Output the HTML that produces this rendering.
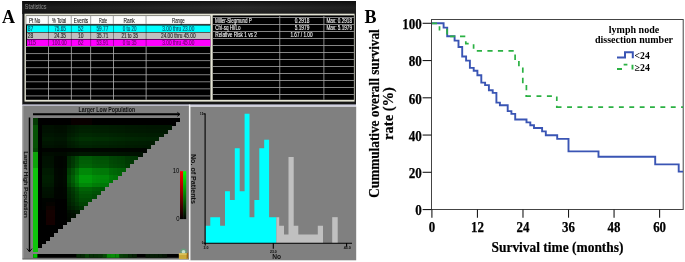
<!DOCTYPE html>
<html><head><meta charset="utf-8"><title>Figure</title>
<style>
html,body{margin:0;padding:0;background:#fff;}
body{width:685px;height:262px;overflow:hidden;}
svg{display:block;}
.ss{font-family:"Liberation Sans",sans-serif;}
.sf{font-family:"Liberation Serif",serif;font-weight:bold;}
</style></head><body>
<svg width="685" height="262" viewBox="0 0 685 262">
<defs>
<linearGradient id="tb" x1="0" x2="1" y1="0" y2="0"><stop offset="0" stop-color="#1b1b1b"/><stop offset="0.65" stop-color="#2a2a2a"/><stop offset="1" stop-color="#202020"/></linearGradient>
<linearGradient id="tbv" x1="0" x2="0" y1="0" y2="1"><stop offset="0" stop-color="#000" stop-opacity="0.55"/><stop offset="0.5" stop-color="#000" stop-opacity="0"/><stop offset="1" stop-color="#000" stop-opacity="0.25"/></linearGradient>
<linearGradient id="cr" x1="0" x2="0" y1="0" y2="1"><stop offset="0" stop-color="#ff0000"/><stop offset="1" stop-color="#000000"/></linearGradient>
<linearGradient id="cg" x1="0" x2="0" y1="0" y2="1"><stop offset="0" stop-color="#00ff00"/><stop offset="1" stop-color="#000000"/></linearGradient>
</defs>
<rect x="0" y="0" width="685" height="262" fill="#ffffff"/>
<text class="sf" x="2" y="22.7" font-size="18">A</text>
<rect x="22.3" y="1" width="333.7" height="104" fill="#161616"/>
<rect x="22.3" y="1" width="333.7" height="13" fill="url(#tb)"/>
<rect x="22.3" y="1" width="333.7" height="13" fill="url(#tbv)"/>
<text class="ss" x="24.8" y="9" font-size="7" fill="#8c8c8c" textLength="21.7" lengthAdjust="spacingAndGlyphs">Statistics</text>
<rect x="24.5" y="13.7" width="330.1" height="87.89999999999999" fill="#e4e4d4"/>
<rect x="25.9" y="15.6" width="184.5" height="84.2" fill="#000"/>
<rect x="212.7" y="15.4" width="141.2" height="84.39999999999999" fill="#000"/>
<rect x="25.9" y="15.8" width="184.5" height="8.599999999999998" fill="#a8a8a8"/>
<rect x="26.50" y="16.1" width="21.30" height="7.70" fill="#fcfcfc"/>
<rect x="48.90" y="16.1" width="21.80" height="7.70" fill="#fcfcfc"/>
<rect x="71.80" y="16.1" width="18.30" height="7.70" fill="#fcfcfc"/>
<rect x="91.20" y="16.1" width="21.60" height="7.70" fill="#fcfcfc"/>
<rect x="113.90" y="16.1" width="31.60" height="7.70" fill="#fcfcfc"/>
<rect x="146.60" y="16.1" width="63.50" height="7.70" fill="#fcfcfc"/>
<rect x="25.9" y="24.099999999999998" width="184.5" height="1.0" fill="#3c3c3c"/>
<rect x="27.099999999999998" y="25.50" width="183.3" height="6.50" fill="#00ffff"/>
<rect x="27.099999999999998" y="32.55" width="183.3" height="6.50" fill="#c0c0c0"/>
<rect x="27.099999999999998" y="39.60" width="183.3" height="6.50" fill="#ff00ff"/>
<rect x="25.9" y="46.10" width="184.5" height="0.9" fill="#8c8c8c"/>
<rect x="25.9" y="53.15" width="184.5" height="0.9" fill="#8c8c8c"/>
<rect x="25.9" y="60.20" width="184.5" height="0.9" fill="#8c8c8c"/>
<rect x="25.9" y="67.25" width="184.5" height="0.9" fill="#8c8c8c"/>
<rect x="25.9" y="74.30" width="184.5" height="0.9" fill="#8c8c8c"/>
<rect x="25.9" y="81.35" width="184.5" height="0.9" fill="#8c8c8c"/>
<rect x="25.9" y="88.40" width="184.5" height="0.9" fill="#8c8c8c"/>
<rect x="25.9" y="95.45" width="184.5" height="0.9" fill="#8c8c8c"/>
<rect x="48.00" y="25.40" width="0.8" height="21.15" fill="#000" fill-opacity="0.45"/>
<rect x="48.00" y="46.55" width="0.8" height="53.25" fill="#b4b4b4"/>
<rect x="70.90" y="25.40" width="0.8" height="21.15" fill="#000" fill-opacity="0.45"/>
<rect x="70.90" y="46.55" width="0.8" height="53.25" fill="#b4b4b4"/>
<rect x="90.30" y="25.40" width="0.8" height="21.15" fill="#000" fill-opacity="0.45"/>
<rect x="90.30" y="46.55" width="0.8" height="53.25" fill="#b4b4b4"/>
<rect x="113.00" y="25.40" width="0.8" height="21.15" fill="#000" fill-opacity="0.45"/>
<rect x="113.00" y="46.55" width="0.8" height="53.25" fill="#b4b4b4"/>
<rect x="145.70" y="25.40" width="0.8" height="21.15" fill="#000" fill-opacity="0.45"/>
<rect x="145.70" y="46.55" width="0.8" height="53.25" fill="#b4b4b4"/>
<text class="ss" x="29.0" y="22.6" font-size="6.5" fill="#101010" textLength="11.3" lengthAdjust="spacingAndGlyphs" stroke="#101010" stroke-width="0.1">Pt No</text>
<text class="ss" x="52.1" y="22.6" font-size="6.5" fill="#101010" textLength="13.9" lengthAdjust="spacingAndGlyphs" stroke="#101010" stroke-width="0.1">% Total</text>
<text class="ss" x="73.8" y="22.6" font-size="6.5" fill="#101010" textLength="14.4" lengthAdjust="spacingAndGlyphs" stroke="#101010" stroke-width="0.1">Events</text>
<text class="ss" x="99.0" y="22.6" font-size="6.5" fill="#101010" textLength="8.0" lengthAdjust="spacingAndGlyphs" stroke="#101010" stroke-width="0.1">Rate</text>
<text class="ss" x="123.4" y="22.6" font-size="6.5" fill="#101010" textLength="11.4" lengthAdjust="spacingAndGlyphs" stroke="#101010" stroke-width="0.1">Rank</text>
<text class="ss" x="172.1" y="22.6" font-size="6.5" fill="#101010" textLength="12.6" lengthAdjust="spacingAndGlyphs" stroke="#101010" stroke-width="0.1">Range</text>
<text class="ss" x="27.7" y="31.3" font-size="6.4" fill="#004c66" textLength="5.5" lengthAdjust="spacingAndGlyphs" stroke="#004c66" stroke-width="0.12">87</text>
<text class="ss" x="54.2" y="31.3" font-size="6.4" fill="#004c66" textLength="11.8" lengthAdjust="spacingAndGlyphs" stroke="#004c66" stroke-width="0.12">75.65</text>
<text class="ss" x="78.1" y="31.3" font-size="6.4" fill="#004c66" textLength="5.5" lengthAdjust="spacingAndGlyphs" stroke="#004c66" stroke-width="0.12">52</text>
<text class="ss" x="96.5" y="31.3" font-size="6.4" fill="#004c66" textLength="11.8" lengthAdjust="spacingAndGlyphs" stroke="#004c66" stroke-width="0.12">59.77</text>
<text class="ss" x="122.7" y="31.3" font-size="6.4" fill="#004c66" textLength="13.8" lengthAdjust="spacingAndGlyphs" stroke="#004c66" stroke-width="0.12">0 to 20</text>
<text class="ss" x="162.3" y="31.3" font-size="6.4" fill="#004c66" textLength="32.0" lengthAdjust="spacingAndGlyphs" stroke="#004c66" stroke-width="0.12">3.00 thru 23.00</text>
<text class="ss" x="27.7" y="38.3" font-size="6.4" fill="#1e1e1e" textLength="5.5" lengthAdjust="spacingAndGlyphs" stroke="#1e1e1e" stroke-width="0.12">28</text>
<text class="ss" x="54.2" y="38.3" font-size="6.4" fill="#1e1e1e" textLength="11.8" lengthAdjust="spacingAndGlyphs" stroke="#1e1e1e" stroke-width="0.12">24.35</text>
<text class="ss" x="78.1" y="38.3" font-size="6.4" fill="#1e1e1e" textLength="5.5" lengthAdjust="spacingAndGlyphs" stroke="#1e1e1e" stroke-width="0.12">10</text>
<text class="ss" x="96.5" y="38.3" font-size="6.4" fill="#1e1e1e" textLength="11.8" lengthAdjust="spacingAndGlyphs" stroke="#1e1e1e" stroke-width="0.12">35.71</text>
<text class="ss" x="121.4" y="38.3" font-size="6.4" fill="#1e1e1e" textLength="16.6" lengthAdjust="spacingAndGlyphs" stroke="#1e1e1e" stroke-width="0.12">21 to 35</text>
<text class="ss" x="161.0" y="38.3" font-size="6.4" fill="#1e1e1e" textLength="34.6" lengthAdjust="spacingAndGlyphs" stroke="#1e1e1e" stroke-width="0.12">24.00 thru 45.00</text>
<text class="ss" x="27.7" y="45.4" font-size="6.4" fill="#6a006a" textLength="8.3" lengthAdjust="spacingAndGlyphs" stroke="#6a006a" stroke-width="0.12">115</text>
<text class="ss" x="52.1" y="45.4" font-size="6.4" fill="#6a006a" textLength="14.7" lengthAdjust="spacingAndGlyphs" stroke="#6a006a" stroke-width="0.12">100.00</text>
<text class="ss" x="78.1" y="45.4" font-size="6.4" fill="#6a006a" textLength="5.5" lengthAdjust="spacingAndGlyphs" stroke="#6a006a" stroke-width="0.12">62</text>
<text class="ss" x="96.5" y="45.4" font-size="6.4" fill="#6a006a" textLength="11.8" lengthAdjust="spacingAndGlyphs" stroke="#6a006a" stroke-width="0.12">53.91</text>
<text class="ss" x="122.7" y="45.4" font-size="6.4" fill="#6a006a" textLength="13.8" lengthAdjust="spacingAndGlyphs" stroke="#6a006a" stroke-width="0.12">0 to 35</text>
<text class="ss" x="162.3" y="45.4" font-size="6.4" fill="#6a006a" textLength="32.0" lengthAdjust="spacingAndGlyphs" stroke="#6a006a" stroke-width="0.12">3.00 thru 45.00</text>
<rect x="212.7" y="17.10" width="141.2" height="0.8" fill="#a8a8a8"/>
<rect x="212.7" y="24.10" width="141.2" height="0.8" fill="#a8a8a8"/>
<rect x="212.7" y="31.10" width="141.2" height="0.8" fill="#a8a8a8"/>
<rect x="212.7" y="38.10" width="141.2" height="0.8" fill="#a8a8a8"/>
<rect x="212.7" y="45.10" width="141.2" height="0.8" fill="#a8a8a8"/>
<rect x="212.7" y="52.10" width="141.2" height="0.8" fill="#a8a8a8"/>
<rect x="212.7" y="59.10" width="141.2" height="0.8" fill="#a8a8a8"/>
<rect x="212.7" y="66.10" width="141.2" height="0.8" fill="#a8a8a8"/>
<rect x="212.7" y="73.10" width="141.2" height="0.8" fill="#a8a8a8"/>
<rect x="212.7" y="80.10" width="141.2" height="0.8" fill="#a8a8a8"/>
<rect x="212.7" y="87.10" width="141.2" height="0.8" fill="#a8a8a8"/>
<rect x="212.7" y="94.10" width="141.2" height="0.8" fill="#a8a8a8"/>
<rect x="279.40" y="16" width="0.8" height="83.8" fill="#a8a8a8"/>
<rect x="323.50" y="16" width="0.8" height="83.8" fill="#a8a8a8"/>
<text class="ss" x="215.0" y="22.8" font-size="6.3" fill="#f4f4f4" textLength="36.8" lengthAdjust="spacingAndGlyphs" stroke="#f4f4f4" stroke-width="0.12">Miller-Siegmund P</text>
<text class="ss" x="294.7" y="22.8" font-size="6.3" fill="#f4f4f4" textLength="14.6" lengthAdjust="spacingAndGlyphs" stroke="#f4f4f4" stroke-width="0.12">0.2918</text>
<text class="ss" x="326.4" y="22.8" font-size="6.3" fill="#f4f4f4" textLength="25.6" lengthAdjust="spacingAndGlyphs" stroke="#f4f4f4" stroke-width="0.12">Max: 0.2918</text>
<text class="ss" x="215.3" y="29.8" font-size="6.3" fill="#f4f4f4" textLength="25.2" lengthAdjust="spacingAndGlyphs" stroke="#f4f4f4" stroke-width="0.12">Chi-sq Hi/Lo</text>
<text class="ss" x="294.7" y="29.8" font-size="6.3" fill="#f4f4f4" textLength="14.6" lengthAdjust="spacingAndGlyphs" stroke="#f4f4f4" stroke-width="0.12">5.1979</text>
<text class="ss" x="326.4" y="29.8" font-size="6.3" fill="#f4f4f4" textLength="25.6" lengthAdjust="spacingAndGlyphs" stroke="#f4f4f4" stroke-width="0.12">Max: 5.1979</text>
<text class="ss" x="215.3" y="36.8" font-size="6.3" fill="#f4f4f4" textLength="41.6" lengthAdjust="spacingAndGlyphs" stroke="#f4f4f4" stroke-width="0.12">Relative Risk 1 vs 2</text>
<text class="ss" x="290.4" y="36.8" font-size="6.3" fill="#f4f4f4" textLength="22.2" lengthAdjust="spacingAndGlyphs" stroke="#f4f4f4" stroke-width="0.12">1.67 / 1.00</text>
<rect x="22.3" y="104.4" width="333.7" height="1.5" fill="#d0d0e4"/>
<rect x="22.5" y="105.7" width="166.5" height="153.60000000000002" fill="#808080"/>
<rect x="190.3" y="106.8" width="165.89999999999998" height="153.5" fill="#808080"/>
<rect x="188.9" y="104.6" width="1.3" height="156.4" fill="#f4f4f4"/>
<rect x="190.3" y="105.7" width="165.89999999999998" height="1.1" fill="#c8c8d0"/>
<rect x="22.5" y="105.7" width="1.0" height="153.60000000000002" fill="#a0a0a0"/>
<rect x="22.5" y="258.5" width="166.5" height="0.9" fill="#606060"/>
<g shape-rendering="crispEdges"><rect x="33.20" y="117.70" width="146.70" height="4.13" fill="#000"/><rect x="33.20" y="121.53" width="142.51" height="4.13" fill="#000"/><rect x="33.20" y="125.36" width="138.32" height="4.13" fill="#000"/><rect x="33.20" y="129.19" width="134.13" height="4.13" fill="#000"/><rect x="33.20" y="133.03" width="129.93" height="4.13" fill="#000"/><rect x="33.20" y="136.86" width="125.74" height="4.13" fill="#000"/><rect x="33.20" y="140.69" width="121.55" height="4.13" fill="#000"/><rect x="33.20" y="144.52" width="117.36" height="4.13" fill="#000"/><rect x="33.20" y="148.35" width="113.17" height="4.13" fill="#000"/><rect x="33.20" y="152.18" width="108.98" height="4.13" fill="#000"/><rect x="33.20" y="156.01" width="104.79" height="4.13" fill="#000"/><rect x="33.20" y="159.85" width="100.59" height="4.13" fill="#000"/><rect x="33.20" y="163.68" width="96.40" height="4.13" fill="#000"/><rect x="33.20" y="167.51" width="92.21" height="4.13" fill="#000"/><rect x="33.20" y="171.34" width="88.02" height="4.13" fill="#000"/><rect x="33.20" y="175.17" width="83.83" height="4.13" fill="#000"/><rect x="33.20" y="179.00" width="79.64" height="4.13" fill="#000"/><rect x="33.20" y="182.83" width="75.45" height="4.13" fill="#000"/><rect x="33.20" y="186.67" width="71.25" height="4.13" fill="#000"/><rect x="33.20" y="190.50" width="67.06" height="4.13" fill="#000"/><rect x="33.20" y="194.33" width="62.87" height="4.13" fill="#000"/><rect x="33.20" y="198.16" width="58.68" height="4.13" fill="#000"/><rect x="33.20" y="201.99" width="54.49" height="4.13" fill="#000"/><rect x="33.20" y="205.82" width="50.30" height="4.13" fill="#000"/><rect x="33.20" y="209.65" width="46.11" height="4.13" fill="#000"/><rect x="33.20" y="213.49" width="41.91" height="4.13" fill="#000"/><rect x="33.20" y="217.32" width="37.72" height="4.13" fill="#000"/><rect x="33.20" y="221.15" width="33.53" height="4.13" fill="#000"/><rect x="33.20" y="224.98" width="29.34" height="4.13" fill="#000"/><rect x="33.20" y="228.81" width="25.15" height="4.13" fill="#000"/><rect x="33.20" y="232.64" width="20.96" height="4.13" fill="#000"/><rect x="33.20" y="236.47" width="16.77" height="4.13" fill="#000"/><rect x="33.20" y="240.31" width="12.57" height="4.13" fill="#000"/><rect x="33.20" y="244.14" width="8.38" height="4.13" fill="#000"/><rect x="33.20" y="247.97" width="4.19" height="4.13" fill="#000"/><rect x="33.20" y="117.70" width="4.69" height="4.33" fill="#043a03"/><rect x="70.92" y="117.70" width="4.69" height="4.33" fill="#090000"/><rect x="75.11" y="117.70" width="4.69" height="4.33" fill="#090000"/><rect x="79.31" y="117.70" width="4.69" height="4.33" fill="#090000"/><rect x="83.50" y="117.70" width="4.69" height="4.33" fill="#090000"/><rect x="87.69" y="117.70" width="4.69" height="4.33" fill="#090000"/>
<rect x="33.20" y="121.53" width="4.69" height="4.33" fill="#043a03"/><rect x="70.92" y="121.53" width="4.69" height="4.33" fill="#090000"/><rect x="75.11" y="121.53" width="4.69" height="4.33" fill="#090000"/><rect x="79.31" y="121.53" width="4.69" height="4.33" fill="#090000"/><rect x="83.50" y="121.53" width="4.69" height="4.33" fill="#090000"/><rect x="87.69" y="121.53" width="4.69" height="4.33" fill="#090000"/>
<rect x="33.20" y="125.36" width="4.69" height="4.33" fill="#065204"/><rect x="41.58" y="125.36" width="4.69" height="4.33" fill="#001000"/><rect x="45.77" y="125.36" width="4.69" height="4.33" fill="#001000"/><rect x="49.97" y="125.36" width="4.69" height="4.33" fill="#001000"/><rect x="54.16" y="125.36" width="4.69" height="4.33" fill="#000d00"/><rect x="58.35" y="125.36" width="4.69" height="4.33" fill="#000d00"/><rect x="62.54" y="125.36" width="4.69" height="4.33" fill="#000e00"/><rect x="66.73" y="125.36" width="4.69" height="4.33" fill="#001401"/><rect x="70.92" y="125.36" width="4.69" height="4.33" fill="#001701"/><rect x="75.11" y="125.36" width="4.69" height="4.33" fill="#001b01"/><rect x="79.31" y="125.36" width="4.69" height="4.33" fill="#001e01"/><rect x="83.50" y="125.36" width="4.69" height="4.33" fill="#001e01"/><rect x="87.69" y="125.36" width="4.69" height="4.33" fill="#001e01"/><rect x="91.88" y="125.36" width="4.69" height="4.33" fill="#001d01"/><rect x="96.07" y="125.36" width="4.69" height="4.33" fill="#001c01"/><rect x="100.26" y="125.36" width="4.69" height="4.33" fill="#001c01"/><rect x="104.45" y="125.36" width="4.69" height="4.33" fill="#001c01"/><rect x="108.65" y="125.36" width="4.69" height="4.33" fill="#001a01"/><rect x="112.84" y="125.36" width="4.69" height="4.33" fill="#001a01"/><rect x="117.03" y="125.36" width="4.69" height="4.33" fill="#001901"/><rect x="121.22" y="125.36" width="4.69" height="4.33" fill="#001901"/><rect x="125.41" y="125.36" width="4.69" height="4.33" fill="#001701"/><rect x="129.60" y="125.36" width="4.69" height="4.33" fill="#001701"/><rect x="133.79" y="125.36" width="4.69" height="4.33" fill="#001701"/><rect x="137.99" y="125.36" width="4.69" height="4.33" fill="#001601"/><rect x="142.18" y="125.36" width="4.69" height="4.33" fill="#001601"/><rect x="146.37" y="125.36" width="4.69" height="4.33" fill="#001501"/><rect x="150.56" y="125.36" width="4.69" height="4.33" fill="#001501"/><rect x="154.75" y="125.36" width="4.69" height="4.33" fill="#001501"/><rect x="158.94" y="125.36" width="4.69" height="4.33" fill="#001501"/><rect x="163.13" y="125.36" width="4.69" height="4.33" fill="#001501"/><rect x="167.33" y="125.36" width="4.69" height="4.33" fill="#001501"/>
<rect x="33.20" y="129.19" width="4.69" height="4.33" fill="#065204"/><rect x="41.58" y="129.19" width="4.69" height="4.33" fill="#001101"/><rect x="45.77" y="129.19" width="4.69" height="4.33" fill="#001101"/><rect x="49.97" y="129.19" width="4.69" height="4.33" fill="#001101"/><rect x="54.16" y="129.19" width="4.69" height="4.33" fill="#000f00"/><rect x="58.35" y="129.19" width="4.69" height="4.33" fill="#000e00"/><rect x="62.54" y="129.19" width="4.69" height="4.33" fill="#000f00"/><rect x="66.73" y="129.19" width="4.69" height="4.33" fill="#001601"/><rect x="70.92" y="129.19" width="4.69" height="4.33" fill="#001901"/><rect x="75.11" y="129.19" width="4.69" height="4.33" fill="#001d01"/><rect x="79.31" y="129.19" width="4.69" height="4.33" fill="#002101"/><rect x="83.50" y="129.19" width="4.69" height="4.33" fill="#002101"/><rect x="87.69" y="129.19" width="4.69" height="4.33" fill="#002101"/><rect x="91.88" y="129.19" width="4.69" height="4.33" fill="#001f01"/><rect x="96.07" y="129.19" width="4.69" height="4.33" fill="#001f01"/><rect x="100.26" y="129.19" width="4.69" height="4.33" fill="#001e01"/><rect x="104.45" y="129.19" width="4.69" height="4.33" fill="#001e01"/><rect x="108.65" y="129.19" width="4.69" height="4.33" fill="#001c01"/><rect x="112.84" y="129.19" width="4.69" height="4.33" fill="#001c01"/><rect x="117.03" y="129.19" width="4.69" height="4.33" fill="#001b01"/><rect x="121.22" y="129.19" width="4.69" height="4.33" fill="#001b01"/><rect x="125.41" y="129.19" width="4.69" height="4.33" fill="#001901"/><rect x="129.60" y="129.19" width="4.69" height="4.33" fill="#001901"/><rect x="133.79" y="129.19" width="4.69" height="4.33" fill="#001801"/><rect x="137.99" y="129.19" width="4.69" height="4.33" fill="#001801"/><rect x="142.18" y="129.19" width="4.69" height="4.33" fill="#001801"/><rect x="146.37" y="129.19" width="4.69" height="4.33" fill="#001701"/><rect x="150.56" y="129.19" width="4.69" height="4.33" fill="#001701"/><rect x="154.75" y="129.19" width="4.69" height="4.33" fill="#001701"/><rect x="158.94" y="129.19" width="4.69" height="4.33" fill="#001701"/><rect x="163.13" y="129.19" width="4.69" height="4.33" fill="#001701"/>
<rect x="33.20" y="133.03" width="4.69" height="4.33" fill="#065204"/><rect x="41.58" y="133.03" width="4.69" height="4.33" fill="#001501"/><rect x="45.77" y="133.03" width="4.69" height="4.33" fill="#001501"/><rect x="49.97" y="133.03" width="4.69" height="4.33" fill="#001501"/><rect x="54.16" y="133.03" width="4.69" height="4.33" fill="#001201"/><rect x="58.35" y="133.03" width="4.69" height="4.33" fill="#001201"/><rect x="62.54" y="133.03" width="4.69" height="4.33" fill="#001201"/><rect x="66.73" y="133.03" width="4.69" height="4.33" fill="#001b01"/><rect x="70.92" y="133.03" width="4.69" height="4.33" fill="#001e01"/><rect x="75.11" y="133.03" width="4.69" height="4.33" fill="#002302"/><rect x="79.31" y="133.03" width="4.69" height="4.33" fill="#002802"/><rect x="83.50" y="133.03" width="4.69" height="4.33" fill="#002802"/><rect x="87.69" y="133.03" width="4.69" height="4.33" fill="#002802"/><rect x="91.88" y="133.03" width="4.69" height="4.33" fill="#002602"/><rect x="96.07" y="133.03" width="4.69" height="4.33" fill="#002502"/><rect x="100.26" y="133.03" width="4.69" height="4.33" fill="#002502"/><rect x="104.45" y="133.03" width="4.69" height="4.33" fill="#002502"/><rect x="108.65" y="133.03" width="4.69" height="4.33" fill="#002302"/><rect x="112.84" y="133.03" width="4.69" height="4.33" fill="#002202"/><rect x="117.03" y="133.03" width="4.69" height="4.33" fill="#002101"/><rect x="121.22" y="133.03" width="4.69" height="4.33" fill="#002101"/><rect x="125.41" y="133.03" width="4.69" height="4.33" fill="#001f01"/><rect x="129.60" y="133.03" width="4.69" height="4.33" fill="#001e01"/><rect x="133.79" y="133.03" width="4.69" height="4.33" fill="#001e01"/><rect x="137.99" y="133.03" width="4.69" height="4.33" fill="#001d01"/><rect x="142.18" y="133.03" width="4.69" height="4.33" fill="#001d01"/><rect x="146.37" y="133.03" width="4.69" height="4.33" fill="#001c01"/><rect x="150.56" y="133.03" width="4.69" height="4.33" fill="#001c01"/><rect x="154.75" y="133.03" width="4.69" height="4.33" fill="#001c01"/><rect x="158.94" y="133.03" width="4.69" height="4.33" fill="#001c01"/>
<rect x="33.20" y="136.86" width="4.69" height="4.33" fill="#065204"/><rect x="41.58" y="136.86" width="4.69" height="4.33" fill="#001a01"/><rect x="45.77" y="136.86" width="4.69" height="4.33" fill="#001a01"/><rect x="49.97" y="136.86" width="4.69" height="4.33" fill="#001901"/><rect x="54.16" y="136.86" width="4.69" height="4.33" fill="#001601"/><rect x="58.35" y="136.86" width="4.69" height="4.33" fill="#001601"/><rect x="62.54" y="136.86" width="4.69" height="4.33" fill="#001601"/><rect x="66.73" y="136.86" width="4.69" height="4.33" fill="#002101"/><rect x="70.92" y="136.86" width="4.69" height="4.33" fill="#002602"/><rect x="75.11" y="136.86" width="4.69" height="4.33" fill="#002b02"/><rect x="79.31" y="136.86" width="4.69" height="4.33" fill="#003102"/><rect x="83.50" y="136.86" width="4.69" height="4.33" fill="#003102"/><rect x="87.69" y="136.86" width="4.69" height="4.33" fill="#003102"/><rect x="91.88" y="136.86" width="4.69" height="4.33" fill="#002f02"/><rect x="96.07" y="136.86" width="4.69" height="4.33" fill="#002e02"/><rect x="100.26" y="136.86" width="4.69" height="4.33" fill="#002e02"/><rect x="104.45" y="136.86" width="4.69" height="4.33" fill="#002e02"/><rect x="108.65" y="136.86" width="4.69" height="4.33" fill="#002b02"/><rect x="112.84" y="136.86" width="4.69" height="4.33" fill="#002a02"/><rect x="117.03" y="136.86" width="4.69" height="4.33" fill="#002902"/><rect x="121.22" y="136.86" width="4.69" height="4.33" fill="#002802"/><rect x="125.41" y="136.86" width="4.69" height="4.33" fill="#002602"/><rect x="129.60" y="136.86" width="4.69" height="4.33" fill="#002602"/><rect x="133.79" y="136.86" width="4.69" height="4.33" fill="#002502"/><rect x="137.99" y="136.86" width="4.69" height="4.33" fill="#002402"/><rect x="142.18" y="136.86" width="4.69" height="4.33" fill="#002402"/><rect x="146.37" y="136.86" width="4.69" height="4.33" fill="#002302"/><rect x="150.56" y="136.86" width="4.69" height="4.33" fill="#002302"/><rect x="154.75" y="136.86" width="4.69" height="4.33" fill="#002302"/>
<rect x="33.20" y="140.69" width="4.69" height="4.33" fill="#065204"/><rect x="41.58" y="140.69" width="4.69" height="4.33" fill="#001501"/><rect x="45.77" y="140.69" width="4.69" height="4.33" fill="#001501"/><rect x="49.97" y="140.69" width="4.69" height="4.33" fill="#001501"/><rect x="54.16" y="140.69" width="4.69" height="4.33" fill="#001201"/><rect x="58.35" y="140.69" width="4.69" height="4.33" fill="#001201"/><rect x="62.54" y="140.69" width="4.69" height="4.33" fill="#001201"/><rect x="66.73" y="140.69" width="4.69" height="4.33" fill="#001b01"/><rect x="70.92" y="140.69" width="4.69" height="4.33" fill="#001e01"/><rect x="75.11" y="140.69" width="4.69" height="4.33" fill="#002302"/><rect x="79.31" y="140.69" width="4.69" height="4.33" fill="#002802"/><rect x="83.50" y="140.69" width="4.69" height="4.33" fill="#002802"/><rect x="87.69" y="140.69" width="4.69" height="4.33" fill="#002802"/><rect x="91.88" y="140.69" width="4.69" height="4.33" fill="#002602"/><rect x="96.07" y="140.69" width="4.69" height="4.33" fill="#002502"/><rect x="100.26" y="140.69" width="4.69" height="4.33" fill="#002502"/><rect x="104.45" y="140.69" width="4.69" height="4.33" fill="#002502"/><rect x="108.65" y="140.69" width="4.69" height="4.33" fill="#002302"/><rect x="112.84" y="140.69" width="4.69" height="4.33" fill="#002202"/><rect x="117.03" y="140.69" width="4.69" height="4.33" fill="#002101"/><rect x="121.22" y="140.69" width="4.69" height="4.33" fill="#002101"/><rect x="125.41" y="140.69" width="4.69" height="4.33" fill="#001f01"/><rect x="129.60" y="140.69" width="4.69" height="4.33" fill="#001e01"/><rect x="133.79" y="140.69" width="4.69" height="4.33" fill="#001e01"/><rect x="137.99" y="140.69" width="4.69" height="4.33" fill="#001d01"/><rect x="142.18" y="140.69" width="4.69" height="4.33" fill="#001d01"/><rect x="146.37" y="140.69" width="4.69" height="4.33" fill="#001c01"/><rect x="150.56" y="140.69" width="4.69" height="4.33" fill="#001c01"/>
<rect x="33.20" y="144.52" width="4.69" height="4.33" fill="#065204"/><rect x="41.58" y="144.52" width="4.69" height="4.33" fill="#001201"/><rect x="45.77" y="144.52" width="4.69" height="4.33" fill="#001201"/><rect x="49.97" y="144.52" width="4.69" height="4.33" fill="#001201"/><rect x="54.16" y="144.52" width="4.69" height="4.33" fill="#001000"/><rect x="58.35" y="144.52" width="4.69" height="4.33" fill="#000f00"/><rect x="62.54" y="144.52" width="4.69" height="4.33" fill="#001000"/><rect x="66.73" y="144.52" width="4.69" height="4.33" fill="#001801"/><rect x="70.92" y="144.52" width="4.69" height="4.33" fill="#001b01"/><rect x="75.11" y="144.52" width="4.69" height="4.33" fill="#001f01"/><rect x="79.31" y="144.52" width="4.69" height="4.33" fill="#002302"/><rect x="83.50" y="144.52" width="4.69" height="4.33" fill="#002302"/><rect x="87.69" y="144.52" width="4.69" height="4.33" fill="#002302"/><rect x="91.88" y="144.52" width="4.69" height="4.33" fill="#002101"/><rect x="96.07" y="144.52" width="4.69" height="4.33" fill="#002101"/><rect x="100.26" y="144.52" width="4.69" height="4.33" fill="#002001"/><rect x="104.45" y="144.52" width="4.69" height="4.33" fill="#002001"/><rect x="108.65" y="144.52" width="4.69" height="4.33" fill="#001e01"/><rect x="112.84" y="144.52" width="4.69" height="4.33" fill="#001e01"/><rect x="117.03" y="144.52" width="4.69" height="4.33" fill="#001d01"/><rect x="121.22" y="144.52" width="4.69" height="4.33" fill="#001d01"/><rect x="125.41" y="144.52" width="4.69" height="4.33" fill="#001b01"/><rect x="129.60" y="144.52" width="4.69" height="4.33" fill="#001b01"/><rect x="133.79" y="144.52" width="4.69" height="4.33" fill="#001a01"/><rect x="137.99" y="144.52" width="4.69" height="4.33" fill="#001a01"/><rect x="142.18" y="144.52" width="4.69" height="4.33" fill="#001901"/><rect x="146.37" y="144.52" width="4.69" height="4.33" fill="#001901"/>
<rect x="33.20" y="148.35" width="4.69" height="4.33" fill="#054a04"/><rect x="41.58" y="148.35" width="4.69" height="4.33" fill="#000300"/><rect x="45.77" y="148.35" width="4.69" height="4.33" fill="#000300"/><rect x="49.97" y="148.35" width="4.69" height="4.33" fill="#000300"/><rect x="54.16" y="148.35" width="4.69" height="4.33" fill="#000300"/><rect x="58.35" y="148.35" width="4.69" height="4.33" fill="#000300"/><rect x="62.54" y="148.35" width="4.69" height="4.33" fill="#000300"/><rect x="66.73" y="148.35" width="4.69" height="4.33" fill="#000400"/><rect x="70.92" y="148.35" width="4.69" height="4.33" fill="#000500"/><rect x="75.11" y="148.35" width="4.69" height="4.33" fill="#000600"/><rect x="79.31" y="148.35" width="4.69" height="4.33" fill="#000700"/><rect x="83.50" y="148.35" width="4.69" height="4.33" fill="#000700"/><rect x="87.69" y="148.35" width="4.69" height="4.33" fill="#000700"/><rect x="91.88" y="148.35" width="4.69" height="4.33" fill="#000600"/><rect x="96.07" y="148.35" width="4.69" height="4.33" fill="#000600"/><rect x="100.26" y="148.35" width="4.69" height="4.33" fill="#000600"/><rect x="104.45" y="148.35" width="4.69" height="4.33" fill="#000600"/><rect x="108.65" y="148.35" width="4.69" height="4.33" fill="#000600"/><rect x="112.84" y="148.35" width="4.69" height="4.33" fill="#000600"/><rect x="117.03" y="148.35" width="4.69" height="4.33" fill="#000500"/><rect x="121.22" y="148.35" width="4.69" height="4.33" fill="#000500"/><rect x="125.41" y="148.35" width="4.69" height="4.33" fill="#000500"/><rect x="129.60" y="148.35" width="4.69" height="4.33" fill="#000500"/><rect x="133.79" y="148.35" width="4.69" height="4.33" fill="#000500"/><rect x="137.99" y="148.35" width="4.69" height="4.33" fill="#000500"/><rect x="142.18" y="148.35" width="4.69" height="4.33" fill="#000500"/>
<rect x="33.20" y="152.18" width="4.69" height="4.33" fill="#0da409"/><rect x="41.58" y="152.18" width="4.69" height="4.33" fill="#000c00"/><rect x="45.77" y="152.18" width="4.69" height="4.33" fill="#000c00"/><rect x="49.97" y="152.18" width="4.69" height="4.33" fill="#000c00"/><rect x="54.16" y="152.18" width="4.69" height="4.33" fill="#000a00"/><rect x="58.35" y="152.18" width="4.69" height="4.33" fill="#000a00"/><rect x="62.54" y="152.18" width="4.69" height="4.33" fill="#000a00"/><rect x="66.73" y="152.18" width="4.69" height="4.33" fill="#001000"/><rect x="70.92" y="152.18" width="4.69" height="4.33" fill="#001201"/><rect x="75.11" y="152.18" width="4.69" height="4.33" fill="#001401"/><rect x="79.31" y="152.18" width="4.69" height="4.33" fill="#001701"/><rect x="83.50" y="152.18" width="4.69" height="4.33" fill="#001701"/><rect x="87.69" y="152.18" width="4.69" height="4.33" fill="#001701"/><rect x="91.88" y="152.18" width="4.69" height="4.33" fill="#001601"/><rect x="96.07" y="152.18" width="4.69" height="4.33" fill="#001601"/><rect x="100.26" y="152.18" width="4.69" height="4.33" fill="#001501"/><rect x="104.45" y="152.18" width="4.69" height="4.33" fill="#001501"/><rect x="108.65" y="152.18" width="4.69" height="4.33" fill="#001401"/><rect x="112.84" y="152.18" width="4.69" height="4.33" fill="#001401"/><rect x="117.03" y="152.18" width="4.69" height="4.33" fill="#001301"/><rect x="121.22" y="152.18" width="4.69" height="4.33" fill="#001301"/><rect x="125.41" y="152.18" width="4.69" height="4.33" fill="#001201"/><rect x="129.60" y="152.18" width="4.69" height="4.33" fill="#001201"/><rect x="133.79" y="152.18" width="4.69" height="4.33" fill="#001101"/><rect x="137.99" y="152.18" width="4.69" height="4.33" fill="#001101"/>
<rect x="33.20" y="156.01" width="4.69" height="4.33" fill="#0da409"/><rect x="41.58" y="156.01" width="4.69" height="4.33" fill="#001101"/><rect x="45.77" y="156.01" width="4.69" height="4.33" fill="#001101"/><rect x="49.97" y="156.01" width="4.69" height="4.33" fill="#001000"/><rect x="54.16" y="156.01" width="4.69" height="4.33" fill="#000500"/><rect x="58.35" y="156.01" width="4.69" height="4.33" fill="#000400"/><rect x="62.54" y="156.01" width="4.69" height="4.33" fill="#000600"/><rect x="66.73" y="156.01" width="4.69" height="4.33" fill="#002802"/><rect x="70.92" y="156.01" width="4.69" height="4.33" fill="#003503"/><rect x="75.11" y="156.01" width="4.69" height="4.33" fill="#004704"/><rect x="79.31" y="156.01" width="4.69" height="4.33" fill="#005905"/><rect x="83.50" y="156.01" width="4.69" height="4.33" fill="#005905"/><rect x="87.69" y="156.01" width="4.69" height="4.33" fill="#005905"/><rect x="91.88" y="156.01" width="4.69" height="4.33" fill="#005204"/><rect x="96.07" y="156.01" width="4.69" height="4.33" fill="#005004"/><rect x="100.26" y="156.01" width="4.69" height="4.33" fill="#004e04"/><rect x="104.45" y="156.01" width="4.69" height="4.33" fill="#004e04"/><rect x="108.65" y="156.01" width="4.69" height="4.33" fill="#004504"/><rect x="112.84" y="156.01" width="4.69" height="4.33" fill="#004304"/><rect x="117.03" y="156.01" width="4.69" height="4.33" fill="#004003"/><rect x="121.22" y="156.01" width="4.69" height="4.33" fill="#003e03"/><rect x="125.41" y="156.01" width="4.69" height="4.33" fill="#003703"/><rect x="129.60" y="156.01" width="4.69" height="4.33" fill="#003503"/><rect x="133.79" y="156.01" width="4.69" height="4.33" fill="#003403"/>
<rect x="33.20" y="159.85" width="4.69" height="4.33" fill="#0da409"/><rect x="41.58" y="159.85" width="4.69" height="4.33" fill="#001201"/><rect x="45.77" y="159.85" width="4.69" height="4.33" fill="#001201"/><rect x="49.97" y="159.85" width="4.69" height="4.33" fill="#001000"/><rect x="54.16" y="159.85" width="4.69" height="4.33" fill="#000500"/><rect x="58.35" y="159.85" width="4.69" height="4.33" fill="#000400"/><rect x="62.54" y="159.85" width="4.69" height="4.33" fill="#000600"/><rect x="66.73" y="159.85" width="4.69" height="4.33" fill="#002a02"/><rect x="70.92" y="159.85" width="4.69" height="4.33" fill="#003803"/><rect x="75.11" y="159.85" width="4.69" height="4.33" fill="#004b04"/><rect x="79.31" y="159.85" width="4.69" height="4.33" fill="#005e05"/><rect x="83.50" y="159.85" width="4.69" height="4.33" fill="#005e05"/><rect x="87.69" y="159.85" width="4.69" height="4.33" fill="#005e05"/><rect x="91.88" y="159.85" width="4.69" height="4.33" fill="#005605"/><rect x="96.07" y="159.85" width="4.69" height="4.33" fill="#005405"/><rect x="100.26" y="159.85" width="4.69" height="4.33" fill="#005304"/><rect x="104.45" y="159.85" width="4.69" height="4.33" fill="#005304"/><rect x="108.65" y="159.85" width="4.69" height="4.33" fill="#004904"/><rect x="112.84" y="159.85" width="4.69" height="4.33" fill="#004604"/><rect x="117.03" y="159.85" width="4.69" height="4.33" fill="#004304"/><rect x="121.22" y="159.85" width="4.69" height="4.33" fill="#004203"/><rect x="125.41" y="159.85" width="4.69" height="4.33" fill="#003a03"/><rect x="129.60" y="159.85" width="4.69" height="4.33" fill="#003803"/>
<rect x="33.20" y="163.68" width="4.69" height="4.33" fill="#0da409"/><rect x="41.58" y="163.68" width="4.69" height="4.33" fill="#001301"/><rect x="45.77" y="163.68" width="4.69" height="4.33" fill="#001301"/><rect x="49.97" y="163.68" width="4.69" height="4.33" fill="#001101"/><rect x="54.16" y="163.68" width="4.69" height="4.33" fill="#000500"/><rect x="58.35" y="163.68" width="4.69" height="4.33" fill="#000400"/><rect x="62.54" y="163.68" width="4.69" height="4.33" fill="#000600"/><rect x="66.73" y="163.68" width="4.69" height="4.33" fill="#002c02"/><rect x="70.92" y="163.68" width="4.69" height="4.33" fill="#003b03"/><rect x="75.11" y="163.68" width="4.69" height="4.33" fill="#004f04"/><rect x="79.31" y="163.68" width="4.69" height="4.33" fill="#006305"/><rect x="83.50" y="163.68" width="4.69" height="4.33" fill="#006305"/><rect x="87.69" y="163.68" width="4.69" height="4.33" fill="#006305"/><rect x="91.88" y="163.68" width="4.69" height="4.33" fill="#005b05"/><rect x="96.07" y="163.68" width="4.69" height="4.33" fill="#005905"/><rect x="100.26" y="163.68" width="4.69" height="4.33" fill="#005705"/><rect x="104.45" y="163.68" width="4.69" height="4.33" fill="#005705"/><rect x="108.65" y="163.68" width="4.69" height="4.33" fill="#004d04"/><rect x="112.84" y="163.68" width="4.69" height="4.33" fill="#004a04"/><rect x="117.03" y="163.68" width="4.69" height="4.33" fill="#004704"/><rect x="121.22" y="163.68" width="4.69" height="4.33" fill="#004504"/><rect x="125.41" y="163.68" width="4.69" height="4.33" fill="#003d03"/>
<rect x="33.20" y="167.51" width="4.69" height="4.33" fill="#0fc40b"/><rect x="41.58" y="167.51" width="4.69" height="4.33" fill="#001b01"/><rect x="45.77" y="167.51" width="4.69" height="4.33" fill="#001b01"/><rect x="49.97" y="167.51" width="4.69" height="4.33" fill="#001801"/><rect x="54.16" y="167.51" width="4.69" height="4.33" fill="#000800"/><rect x="58.35" y="167.51" width="4.69" height="4.33" fill="#000600"/><rect x="62.54" y="167.51" width="4.69" height="4.33" fill="#000900"/><rect x="66.73" y="167.51" width="4.69" height="4.33" fill="#003d03"/><rect x="70.92" y="167.51" width="4.69" height="4.33" fill="#005204"/><rect x="75.11" y="167.51" width="4.69" height="4.33" fill="#006d06"/><rect x="79.31" y="167.51" width="4.69" height="4.33" fill="#008808"/><rect x="83.50" y="167.51" width="4.69" height="4.33" fill="#008808"/><rect x="87.69" y="167.51" width="4.69" height="4.33" fill="#008808"/><rect x="91.88" y="167.51" width="4.69" height="4.33" fill="#007d07"/><rect x="96.07" y="167.51" width="4.69" height="4.33" fill="#007b07"/><rect x="100.26" y="167.51" width="4.69" height="4.33" fill="#007807"/><rect x="104.45" y="167.51" width="4.69" height="4.33" fill="#007807"/><rect x="108.65" y="167.51" width="4.69" height="4.33" fill="#006a06"/><rect x="112.84" y="167.51" width="4.69" height="4.33" fill="#006606"/><rect x="117.03" y="167.51" width="4.69" height="4.33" fill="#006205"/><rect x="121.22" y="167.51" width="4.69" height="4.33" fill="#005f05"/>
<rect x="33.20" y="171.34" width="4.69" height="4.33" fill="#0fc40b"/><rect x="41.58" y="171.34" width="4.69" height="4.33" fill="#001b01"/><rect x="45.77" y="171.34" width="4.69" height="4.33" fill="#001b01"/><rect x="49.97" y="171.34" width="4.69" height="4.33" fill="#001801"/><rect x="54.16" y="171.34" width="4.69" height="4.33" fill="#000800"/><rect x="58.35" y="171.34" width="4.69" height="4.33" fill="#000600"/><rect x="62.54" y="171.34" width="4.69" height="4.33" fill="#000900"/><rect x="66.73" y="171.34" width="4.69" height="4.33" fill="#003d03"/><rect x="70.92" y="171.34" width="4.69" height="4.33" fill="#005204"/><rect x="75.11" y="171.34" width="4.69" height="4.33" fill="#006d06"/><rect x="79.31" y="171.34" width="4.69" height="4.33" fill="#008808"/><rect x="83.50" y="171.34" width="4.69" height="4.33" fill="#008808"/><rect x="87.69" y="171.34" width="4.69" height="4.33" fill="#008808"/><rect x="91.88" y="171.34" width="4.69" height="4.33" fill="#007d07"/><rect x="96.07" y="171.34" width="4.69" height="4.33" fill="#007b07"/><rect x="100.26" y="171.34" width="4.69" height="4.33" fill="#007807"/><rect x="104.45" y="171.34" width="4.69" height="4.33" fill="#007807"/><rect x="108.65" y="171.34" width="4.69" height="4.33" fill="#006a06"/><rect x="112.84" y="171.34" width="4.69" height="4.33" fill="#006606"/><rect x="117.03" y="171.34" width="4.69" height="4.33" fill="#006205"/>
<rect x="33.20" y="175.17" width="4.69" height="4.33" fill="#0fc40b"/><rect x="41.58" y="175.17" width="4.69" height="4.33" fill="#001f01"/><rect x="45.77" y="175.17" width="4.69" height="4.33" fill="#001f01"/><rect x="49.97" y="175.17" width="4.69" height="4.33" fill="#001c01"/><rect x="54.16" y="175.17" width="4.69" height="4.33" fill="#000900"/><rect x="58.35" y="175.17" width="4.69" height="4.33" fill="#000700"/><rect x="62.54" y="175.17" width="4.69" height="4.33" fill="#000a00"/><rect x="66.73" y="175.17" width="4.69" height="4.33" fill="#004604"/><rect x="70.92" y="175.17" width="4.69" height="4.33" fill="#005d05"/><rect x="75.11" y="175.17" width="4.69" height="4.33" fill="#007c07"/><rect x="79.31" y="175.17" width="4.69" height="4.33" fill="#009b09"/><rect x="83.50" y="175.17" width="4.69" height="4.33" fill="#009b09"/><rect x="87.69" y="175.17" width="4.69" height="4.33" fill="#009b09"/><rect x="91.88" y="175.17" width="4.69" height="4.33" fill="#008f08"/><rect x="96.07" y="175.17" width="4.69" height="4.33" fill="#008c08"/><rect x="100.26" y="175.17" width="4.69" height="4.33" fill="#008908"/><rect x="104.45" y="175.17" width="4.69" height="4.33" fill="#008908"/><rect x="108.65" y="175.17" width="4.69" height="4.33" fill="#007907"/><rect x="112.84" y="175.17" width="4.69" height="4.33" fill="#007406"/>
<rect x="33.20" y="179.00" width="4.69" height="4.33" fill="#0fc40b"/><rect x="41.58" y="179.00" width="4.69" height="4.33" fill="#001e01"/><rect x="45.77" y="179.00" width="4.69" height="4.33" fill="#001e01"/><rect x="49.97" y="179.00" width="4.69" height="4.33" fill="#001b01"/><rect x="54.16" y="179.00" width="4.69" height="4.33" fill="#000900"/><rect x="58.35" y="179.00" width="4.69" height="4.33" fill="#000700"/><rect x="62.54" y="179.00" width="4.69" height="4.33" fill="#000a00"/><rect x="66.73" y="179.00" width="4.69" height="4.33" fill="#004504"/><rect x="70.92" y="179.00" width="4.69" height="4.33" fill="#005c05"/><rect x="75.11" y="179.00" width="4.69" height="4.33" fill="#007a07"/><rect x="79.31" y="179.00" width="4.69" height="4.33" fill="#009909"/><rect x="83.50" y="179.00" width="4.69" height="4.33" fill="#009909"/><rect x="87.69" y="179.00" width="4.69" height="4.33" fill="#009909"/><rect x="91.88" y="179.00" width="4.69" height="4.33" fill="#008d08"/><rect x="96.07" y="179.00" width="4.69" height="4.33" fill="#008a08"/><rect x="100.26" y="179.00" width="4.69" height="4.33" fill="#008608"/><rect x="104.45" y="179.00" width="4.69" height="4.33" fill="#008608"/><rect x="108.65" y="179.00" width="4.69" height="4.33" fill="#007707"/>
<rect x="33.20" y="182.83" width="4.69" height="4.33" fill="#0fc40b"/><rect x="41.58" y="182.83" width="4.69" height="4.33" fill="#001b01"/><rect x="45.77" y="182.83" width="4.69" height="4.33" fill="#001b01"/><rect x="49.97" y="182.83" width="4.69" height="4.33" fill="#001801"/><rect x="54.16" y="182.83" width="4.69" height="4.33" fill="#000800"/><rect x="58.35" y="182.83" width="4.69" height="4.33" fill="#000600"/><rect x="62.54" y="182.83" width="4.69" height="4.33" fill="#000900"/><rect x="66.73" y="182.83" width="4.69" height="4.33" fill="#003d03"/><rect x="70.92" y="182.83" width="4.69" height="4.33" fill="#005204"/><rect x="75.11" y="182.83" width="4.69" height="4.33" fill="#006d06"/><rect x="79.31" y="182.83" width="4.69" height="4.33" fill="#008808"/><rect x="83.50" y="182.83" width="4.69" height="4.33" fill="#008808"/><rect x="87.69" y="182.83" width="4.69" height="4.33" fill="#008808"/><rect x="91.88" y="182.83" width="4.69" height="4.33" fill="#007d07"/><rect x="96.07" y="182.83" width="4.69" height="4.33" fill="#007b07"/><rect x="100.26" y="182.83" width="4.69" height="4.33" fill="#007807"/><rect x="104.45" y="182.83" width="4.69" height="4.33" fill="#007807"/>
<rect x="33.20" y="186.67" width="4.69" height="4.33" fill="#0fc40b"/><rect x="41.58" y="186.67" width="4.69" height="4.33" fill="#001301"/><rect x="45.77" y="186.67" width="4.69" height="4.33" fill="#001301"/><rect x="49.97" y="186.67" width="4.69" height="4.33" fill="#001101"/><rect x="54.16" y="186.67" width="4.69" height="4.33" fill="#000500"/><rect x="58.35" y="186.67" width="4.69" height="4.33" fill="#000400"/><rect x="62.54" y="186.67" width="4.69" height="4.33" fill="#000600"/><rect x="66.73" y="186.67" width="4.69" height="4.33" fill="#002c02"/><rect x="70.92" y="186.67" width="4.69" height="4.33" fill="#003b03"/><rect x="75.11" y="186.67" width="4.69" height="4.33" fill="#004f04"/><rect x="79.31" y="186.67" width="4.69" height="4.33" fill="#006305"/><rect x="83.50" y="186.67" width="4.69" height="4.33" fill="#006305"/><rect x="87.69" y="186.67" width="4.69" height="4.33" fill="#006305"/><rect x="91.88" y="186.67" width="4.69" height="4.33" fill="#005b05"/><rect x="96.07" y="186.67" width="4.69" height="4.33" fill="#005905"/><rect x="100.26" y="186.67" width="4.69" height="4.33" fill="#005705"/>
<rect x="33.20" y="190.50" width="4.69" height="4.33" fill="#0fc40b"/><rect x="41.58" y="190.50" width="4.69" height="4.33" fill="#001101"/><rect x="45.77" y="190.50" width="4.69" height="4.33" fill="#001101"/><rect x="49.97" y="190.50" width="4.69" height="4.33" fill="#001000"/><rect x="54.16" y="190.50" width="4.69" height="4.33" fill="#000500"/><rect x="58.35" y="190.50" width="4.69" height="4.33" fill="#000400"/><rect x="62.54" y="190.50" width="4.69" height="4.33" fill="#000600"/><rect x="66.73" y="190.50" width="4.69" height="4.33" fill="#002802"/><rect x="70.92" y="190.50" width="4.69" height="4.33" fill="#003503"/><rect x="75.11" y="190.50" width="4.69" height="4.33" fill="#004704"/><rect x="79.31" y="190.50" width="4.69" height="4.33" fill="#005905"/><rect x="83.50" y="190.50" width="4.69" height="4.33" fill="#005905"/><rect x="87.69" y="190.50" width="4.69" height="4.33" fill="#005905"/><rect x="91.88" y="190.50" width="4.69" height="4.33" fill="#005204"/><rect x="96.07" y="190.50" width="4.69" height="4.33" fill="#005004"/>
<rect x="33.20" y="194.33" width="4.69" height="4.33" fill="#0fc40b"/><rect x="41.58" y="194.33" width="4.69" height="4.33" fill="#001000"/><rect x="45.77" y="194.33" width="4.69" height="4.33" fill="#001000"/><rect x="49.97" y="194.33" width="4.69" height="4.33" fill="#000e00"/><rect x="54.16" y="194.33" width="4.69" height="4.33" fill="#000400"/><rect x="58.35" y="194.33" width="4.69" height="4.33" fill="#000400"/><rect x="62.54" y="194.33" width="4.69" height="4.33" fill="#000500"/><rect x="66.73" y="194.33" width="4.69" height="4.33" fill="#002502"/><rect x="70.92" y="194.33" width="4.69" height="4.33" fill="#003102"/><rect x="75.11" y="194.33" width="4.69" height="4.33" fill="#004203"/><rect x="79.31" y="194.33" width="4.69" height="4.33" fill="#005204"/><rect x="83.50" y="194.33" width="4.69" height="4.33" fill="#005204"/><rect x="87.69" y="194.33" width="4.69" height="4.33" fill="#005204"/><rect x="91.88" y="194.33" width="4.69" height="4.33" fill="#004b04"/>
<rect x="33.20" y="198.16" width="4.69" height="4.33" fill="#0fc40b"/><rect x="41.58" y="198.16" width="4.69" height="4.33" fill="#000400"/><rect x="45.77" y="198.16" width="4.69" height="4.33" fill="#000400"/><rect x="49.97" y="198.16" width="4.69" height="4.33" fill="#000300"/><rect x="66.73" y="198.16" width="4.69" height="4.33" fill="#002101"/><rect x="70.92" y="198.16" width="4.69" height="4.33" fill="#002d02"/><rect x="75.11" y="198.16" width="4.69" height="4.33" fill="#003c03"/><rect x="79.31" y="198.16" width="4.69" height="4.33" fill="#004b04"/><rect x="83.50" y="198.16" width="4.69" height="4.33" fill="#004b04"/><rect x="87.69" y="198.16" width="4.69" height="4.33" fill="#004b04"/>
<rect x="33.20" y="201.99" width="4.69" height="4.33" fill="#0fc40b"/><rect x="41.58" y="201.99" width="4.69" height="4.33" fill="#000300"/><rect x="45.77" y="201.99" width="4.69" height="4.33" fill="#050300"/><rect x="49.97" y="201.99" width="4.69" height="4.33" fill="#050300"/><rect x="66.73" y="201.99" width="4.69" height="4.33" fill="#001d01"/><rect x="70.92" y="201.99" width="4.69" height="4.33" fill="#002702"/><rect x="75.11" y="201.99" width="4.69" height="4.33" fill="#003403"/><rect x="79.31" y="201.99" width="4.69" height="4.33" fill="#004203"/><rect x="83.50" y="201.99" width="4.69" height="4.33" fill="#004203"/>
<rect x="33.20" y="205.82" width="4.69" height="4.33" fill="#0fc40b"/><rect x="41.58" y="205.82" width="4.69" height="4.33" fill="#000300"/><rect x="45.77" y="205.82" width="4.69" height="4.33" fill="#0e0300"/><rect x="49.97" y="205.82" width="4.69" height="4.33" fill="#0e0200"/><rect x="66.73" y="205.82" width="4.69" height="4.33" fill="#001701"/><rect x="70.92" y="205.82" width="4.69" height="4.33" fill="#001f01"/><rect x="75.11" y="205.82" width="4.69" height="4.33" fill="#002902"/><rect x="79.31" y="205.82" width="4.69" height="4.33" fill="#003303"/>
<rect x="33.20" y="209.65" width="4.69" height="4.33" fill="#0fc40b"/><rect x="45.77" y="209.65" width="4.69" height="4.33" fill="#140100"/><rect x="49.97" y="209.65" width="4.69" height="4.33" fill="#140100"/><rect x="66.73" y="209.65" width="4.69" height="4.33" fill="#000e00"/><rect x="70.92" y="209.65" width="4.69" height="4.33" fill="#001301"/><rect x="75.11" y="209.65" width="4.69" height="4.33" fill="#001a01"/>
<rect x="33.20" y="213.49" width="4.69" height="4.33" fill="#0fc40b"/><rect x="45.77" y="213.49" width="4.69" height="4.33" fill="#140100"/><rect x="49.97" y="213.49" width="4.69" height="4.33" fill="#140100"/><rect x="66.73" y="213.49" width="4.69" height="4.33" fill="#000a00"/><rect x="70.92" y="213.49" width="4.69" height="4.33" fill="#000e00"/>
<rect x="33.20" y="217.32" width="4.69" height="4.33" fill="#0fc40b"/><rect x="45.77" y="217.32" width="4.69" height="4.33" fill="#140000"/><rect x="49.97" y="217.32" width="4.69" height="4.33" fill="#140000"/><rect x="66.73" y="217.32" width="4.69" height="4.33" fill="#000800"/>
<rect x="33.20" y="221.15" width="4.69" height="4.33" fill="#0fc40b"/><rect x="45.77" y="221.15" width="4.69" height="4.33" fill="#140000"/><rect x="49.97" y="221.15" width="4.69" height="4.33" fill="#140000"/>
<rect x="33.20" y="224.98" width="4.69" height="4.33" fill="#0fc40b"/>
<rect x="33.20" y="228.81" width="4.69" height="4.33" fill="#0fc40b"/>
<rect x="33.20" y="232.64" width="4.69" height="4.33" fill="#0fc40b"/>
<rect x="33.20" y="236.47" width="4.69" height="4.33" fill="#0fc40b"/>
<rect x="33.20" y="240.31" width="4.69" height="4.33" fill="#0fc40b"/>
<rect x="33.20" y="244.14" width="4.69" height="4.33" fill="#0fc40b"/>
<rect x="33.20" y="247.97" width="4.69" height="4.33" fill="#0fc40b"/>
</g>
<rect x="33.2" y="254.0" width="145.7" height="3.8000000000000114" fill="#000"/>
<rect x="33.2" y="254.0" width="4.19" height="3.8000000000000114" fill="#00c800"/>
<rect x="76.38" y="254.0" width="4.38" height="3.8000000000000114" fill="#062806"/><rect x="80.69" y="254.0" width="4.38" height="3.8000000000000114" fill="#062806"/><rect x="85.01" y="254.0" width="4.38" height="3.8000000000000114" fill="#064006"/><rect x="89.33" y="254.0" width="4.38" height="3.8000000000000114" fill="#063006"/><rect x="93.65" y="254.0" width="4.38" height="3.8000000000000114" fill="#063006"/><rect x="97.96" y="254.0" width="4.38" height="3.8000000000000114" fill="#063406"/><rect x="102.28" y="254.0" width="4.38" height="3.8000000000000114" fill="#064806"/><rect x="106.60" y="254.0" width="4.38" height="3.8000000000000114" fill="#068806"/><rect x="110.92" y="254.0" width="4.38" height="3.8000000000000114" fill="#068c06"/><rect x="115.24" y="254.0" width="4.38" height="3.8000000000000114" fill="#068806"/><rect x="119.55" y="254.0" width="4.38" height="3.8000000000000114" fill="#064006"/><rect x="123.87" y="254.0" width="4.38" height="3.8000000000000114" fill="#063806"/><rect x="128.19" y="254.0" width="4.38" height="3.8000000000000114" fill="#062806"/><rect x="132.51" y="254.0" width="4.38" height="3.8000000000000114" fill="#062006"/><rect x="145.46" y="254.0" width="4.38" height="3.8000000000000114" fill="#061806"/><rect x="149.78" y="254.0" width="4.38" height="3.8000000000000114" fill="#061e06"/><rect x="154.09" y="254.0" width="4.38" height="3.8000000000000114" fill="#061e06"/><rect x="158.41" y="254.0" width="4.38" height="3.8000000000000114" fill="#061c06"/><rect x="162.73" y="254.0" width="4.38" height="3.8000000000000114" fill="#061406"/>
<g stroke="#000" fill="none" stroke-width="1.5"><path d="M33 114.3 H179.6" stroke-width="1.9"/><path d="M177.4 112.3 L179.8 114.3 L177.4 116.3" stroke-width="1"/><path d="M29.5 117.5 V251.5"/><path d="M27 248.6 L29.5 251.8 L32 248.6" stroke-width="1"/></g>
<text class="ss" x="78.6" y="112.0" font-size="6.5" fill="#111" font-weight="bold" textLength="56.6" lengthAdjust="spacingAndGlyphs">Larger Low Population</text>
<g transform="translate(24.2,151.2) rotate(90)"><text class="ss" x="0.0" y="0.0" font-size="6.2" fill="#0a0a0a" textLength="66.5" lengthAdjust="spacingAndGlyphs" stroke="#0a0a0a" stroke-width="0.15">Larger High Population</text>
</g>
<rect x="180" y="171.2" width="3.1" height="47.9" fill="url(#cr)"/><rect x="183.1" y="171.2" width="3.1" height="47.9" fill="url(#cg)"/>
<text class="ss" x="172.8" y="173.3" font-size="6.4" fill="#000" textLength="6.5" lengthAdjust="spacingAndGlyphs">10</text>
<text class="ss" x="176.2" y="220.5" font-size="6.4" fill="#000" textLength="3.3" lengthAdjust="spacingAndGlyphs">0</text>
<circle cx="183.5" cy="251.8" r="2.6" fill="#c4dccc" stroke="#6a9a7c" stroke-width="1.5"/><rect x="178.9" y="253.4" width="9.3" height="5.6" fill="#c9a93a"/><path d="M186.6 253.4 L188.2 252.6 V258 L186.6 259 Z" fill="#a06818"/><rect x="178.9" y="253.4" width="7.7" height="1.2" fill="#e6cf6a"/>
<path d="M205.4 243.0 V225.78 H210.30 V217.17 H215.20 V217.17 H220.10 V225.78 H225.00 V191.34 H229.90 V199.95 H234.80 V148.29 H239.70 V191.34 H244.60 V113.85 H249.50 V217.17 H254.40 V199.95 H259.30 V148.29 H264.20 V139.68 H269.10 V217.17 H274.00 V217.17 H276.4 V243.0 Z" fill="#00ffff"/>
<path d="M276.4 243.0 V217.17 H279.2 V225.78 H284.0 V234.39 H288.5 V156.90 H293.7 V225.78 H298.3 V234.39 H317.8 V225.78 H323.0 V243.0 Z" fill="#c0c0c0"/>
<rect x="332.2" y="217.17" width="5.5" height="25.83" fill="#c0c0c0"/>
<g stroke="#000" stroke-width="1.1" fill="none"><path d="M205.1 113.6 V243.6"/><path d="M204.6 243.3 H352"/><path d="M203.4 113.9 H205.2"/><path d="M203.6 243.2 H205.2"/><path d="M205.2 243 V245.6"/><path d="M273.3 243 V248.8"/><path d="M346.6 243 V246.2"/></g>
<text class="ss" x="200.1" y="115.2" font-size="3.4" fill="#000" font-weight="bold" textLength="3.1" lengthAdjust="spacingAndGlyphs">15</text>
<text class="ss" x="201.8" y="244.2" font-size="3.0" fill="#000" font-weight="bold" textLength="1.6" lengthAdjust="spacingAndGlyphs">0</text>
<text class="ss" x="203.6" y="249.0" font-size="3.5" fill="#000" font-weight="bold" textLength="5.0" lengthAdjust="spacingAndGlyphs">3.0</text>
<text class="ss" x="270.1" y="252.8" font-size="3.5" fill="#000" font-weight="bold" textLength="6.6" lengthAdjust="spacingAndGlyphs">23.0</text>
<text class="ss" x="343.7" y="249.1" font-size="3.5" fill="#000" font-weight="bold" textLength="7.1" lengthAdjust="spacingAndGlyphs">45.0</text>
<text class="ss" x="272.2" y="259.4" font-size="7.2" fill="#111" font-weight="bold" textLength="8.9" lengthAdjust="spacingAndGlyphs">No</text>
<g transform="translate(190.9,153.9) rotate(90)"><text class="ss" x="0.0" y="0.0" font-size="6.4" fill="#111" font-weight="bold" textLength="50.0" lengthAdjust="spacingAndGlyphs">No. of Patients</text>
</g>
<text class="sf" x="364.6" y="22.9" font-size="18">B</text>
<rect x="431.5" y="19.5" width="251.70000000000005" height="190.0" fill="#fff" stroke="#444" stroke-width="1"/>
<g stroke="#1a1a1a" stroke-width="1.1"><path d="M422.6 209.55 H431.5"/><path d="M422.6 172.30 H431.5"/><path d="M422.6 135.05 H431.5"/><path d="M422.6 97.80 H431.5"/><path d="M422.6 60.55 H431.5"/><path d="M422.6 23.30 H431.5"/><path d="M431.90 209.5 V217.7"/><path d="M477.44 209.5 V217.7"/><path d="M522.98 209.5 V217.7"/><path d="M568.52 209.5 V217.7"/><path d="M614.06 209.5 V217.7"/><path d="M659.60 209.5 V217.7"/></g>
<text class="sf" x="415.35" y="215.35" font-size="14.4" stroke="#000" stroke-width="0.25" textLength="6.55" lengthAdjust="spacingAndGlyphs">0</text><text class="sf" x="408.80" y="178.10" font-size="14.4" stroke="#000" stroke-width="0.25" textLength="13.10" lengthAdjust="spacingAndGlyphs">20</text><text class="sf" x="408.80" y="140.85" font-size="14.4" stroke="#000" stroke-width="0.25" textLength="13.10" lengthAdjust="spacingAndGlyphs">40</text><text class="sf" x="408.80" y="103.60" font-size="14.4" stroke="#000" stroke-width="0.25" textLength="13.10" lengthAdjust="spacingAndGlyphs">60</text><text class="sf" x="408.80" y="66.35" font-size="14.4" stroke="#000" stroke-width="0.25" textLength="13.10" lengthAdjust="spacingAndGlyphs">80</text><text class="sf" x="402.25" y="29.10" font-size="14.4" stroke="#000" stroke-width="0.25" textLength="19.65" lengthAdjust="spacingAndGlyphs">100</text>
<text class="sf" x="428.67" y="231.7" font-size="14.6" stroke="#000" stroke-width="0.25" textLength="6.45" lengthAdjust="spacingAndGlyphs">0</text><text class="sf" x="470.99" y="231.7" font-size="14.6" stroke="#000" stroke-width="0.25" textLength="12.90" lengthAdjust="spacingAndGlyphs">12</text><text class="sf" x="516.53" y="231.7" font-size="14.6" stroke="#000" stroke-width="0.25" textLength="12.90" lengthAdjust="spacingAndGlyphs">24</text><text class="sf" x="562.07" y="231.7" font-size="14.6" stroke="#000" stroke-width="0.25" textLength="12.90" lengthAdjust="spacingAndGlyphs">36</text><text class="sf" x="607.61" y="231.7" font-size="14.6" stroke="#000" stroke-width="0.25" textLength="12.90" lengthAdjust="spacingAndGlyphs">48</text><text class="sf" x="653.15" y="231.7" font-size="14.6" stroke="#000" stroke-width="0.25" textLength="12.90" lengthAdjust="spacingAndGlyphs">60</text>
<text class="sf" x="557.5" y="252" font-size="14" stroke="#000" stroke-width="0.2" text-anchor="middle" textLength="132" lengthAdjust="spacingAndGlyphs">Survival time (months)</text>
<g transform="translate(378.9,197.8) rotate(-90)"><text class="sf" font-size="14.5" stroke="#000" stroke-width="0.2" x="0" y="0" textLength="168.6" lengthAdjust="spacingAndGlyphs">Cummulative overall survival</text><text class="sf" font-size="14.5" stroke="#000" stroke-width="0.2" x="84.3" y="14.5" text-anchor="middle">rate (%)</text></g>
<path d="M431.9 23.3 L443.6 23.3 L443.6 27.6 L447.2 27.6 L447.2 36.3 L454.6 36.3 L454.6 40.6 L458.5 40.6 L458.5 47.0 L462.2 47.0 L462.2 56.5 L466.1 56.5 L466.1 60.6 L469.9 60.6 L469.9 67.9 L473.7 67.9 L473.7 70.7 L477.4 70.7 L477.4 75.3 L481.3 75.3 L481.3 82.6 L485.1 82.6 L485.1 85.1 L488.9 85.1 L488.9 90.2 L492.7 90.2 L492.7 92.9 L496.4 92.9 L496.4 102.6 L499.9 102.6 L499.9 105.3 L507.7 105.3 L507.7 111.1 L511.4 111.1 L511.4 113.9 L515.2 113.9 L515.2 119.5 L526.5 119.5 L526.5 122.4 L530.3 122.4 L530.3 125.3 L534.0 125.3 L534.0 128.0 L542.1 128.0 L542.1 131.4 L545.8 131.4 L545.8 135.2 L557.2 135.2 L557.2 138.9 L568.5 138.9 L568.5 151.4 L598.5 151.4 L598.5 156.7 L655.2 156.7 L655.2 164.4 L678.7 164.4 L678.7 171.6 L683 171.6" fill="none" stroke="#3a55b4" stroke-width="1.9" stroke-linejoin="miter"/>
<path d="M432.0 23.3H437.0 M439.5 26.2V30.6 M447.1 28.7V34.6 M450.1 36.4H455.1 M460.0 36.4H465.3 M465.8 41.3V43.7H468.7 M473.6 44.2V48.7 M476.8 50.9H482.0 M487.4 50.9H492.6 M497.9 50.9H503.1 M508.5 50.9H513.7 M515.1 54.4V60.1 M518.9 61.1V66.2 M522.8 67.4V72.7 M522.8 77.8V83.2 M526.4 84.9V90.2 M526.2 95.0V96.1H530.9 M536.5 96.1H541.4 M546.9 96.1H551.9 M556.8 96.6V101.1 M556.8 105.8V107.2H561.5 M567.1 107.2H572.0 M577.4 107.2H582.3 M587.8 107.2H592.7 M598.2 107.2H603.1 M608.6 107.2H613.5 M618.9 107.2H623.8 M629.3 107.2H634.2 M639.7 107.2H644.6 M650.0 107.2H654.9 M660.4 107.2H665.3 M670.8 107.2H675.7 M681.1 107.2H683.0" fill="none" stroke="#2bb143" stroke-width="1.7"/>
<text class="sf" font-size="10" text-anchor="middle"><tspan x="634" y="33.2">lymph node</tspan><tspan x="634" y="43.3">dissection number</tspan></text>
<path d="M617 57.5 H625 V52.3 H632.8 V58.2" fill="none" stroke="#3a55b4" stroke-width="2"/>
<path d="M617 69 H622 M624.6 65.4 V64.6 H627.4 M632.5 64.8 V69.4" fill="none" stroke="#2bb143" stroke-width="1.9"/>
<text class="sf" x="634.6" y="59.2" font-size="10" textLength="15.2" lengthAdjust="spacingAndGlyphs">&lt;24</text>
<text class="sf" x="634.6" y="71.2" font-size="10" textLength="15.2" lengthAdjust="spacingAndGlyphs">≥24</text>
</svg>
</body></html>
